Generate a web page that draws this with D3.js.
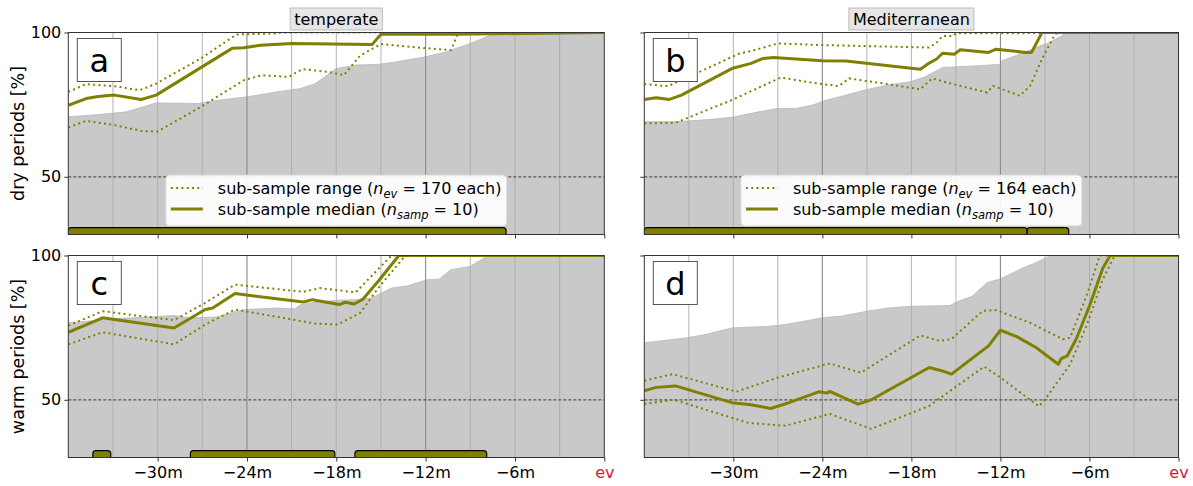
<!DOCTYPE html>
<html><head><meta charset="utf-8">
<script src="https://cdn.jsdelivr.net/npm/d3@7"></script>
<style>body{margin:0;background:#fff}svg{display:block;font-family:"DejaVu Sans",sans-serif}</style>
</head><body><svg id="c" width="1193" height="486"></svg>
<script>
// ---------- data (months before event, percent) ----------
const xTicks = [-30, -24, -18, -12, -6, 0];
const xTickLabels = ["\u221230m", "\u221224m", "\u221218m", "\u221212m", "\u22126m", "ev"];
const yTicks = [50, 100];
const gridMonths = [-33, -30, -27, -24, -21, -18, -15, -12, -9, -6, -3];
const majorGrid = [-24, -12];
const panelTitles = ["temperate", "Mediterranean"];
const rowLabels = ["dry periods [%]", "warm periods [%]"];
const legendN = [170, 164];
const nSamp = 10;

// panel a (temperate, dry)
const grayA_x = [-36, -34.3, -32.1, -30.1, -27.3, -25.8, -24, -22, -20.4, -19.4, -18, -16.7, -15.1, -14, -12, -10.6, -9, -7.9, -7.1, 0];
const grayA_y = [70.8, 71.4, 72.5, 75.6, 75.4, 76.6, 77.7, 79.4, 80.6, 82.3, 87.5, 88.7, 89, 89.8, 91.6, 93.3, 96.2, 98.5, 100, 100];
const medA_x = [-36, -34.8, -34.1, -33.5, -32.9, -31.1, -30.5, -30.1, -25, -24.2, -23.1, -21, -15.6, -15, -9.8, 0];
const medA_y = [74.8, 77.1, 77.7, 78.1, 78.3, 76.8, 77.7, 78.3, 94.5, 94.7, 95.6, 96.2, 95.8, 99.4, 99.4, 100];
const upA_x = [-36, -34.8, -32.9, -31.2, -30.1, -27.1, -24.7, -22, -21.7, 0];
const upA_y = [79.4, 82.1, 81.4, 80, 82.3, 91, 99.3, 99.7, 100, 100];
const loA_x = [-36, -34.8, -32.9, -31.1, -30, -27.1, -24.2, -23, -21.2, -20.3, -18.6, -17.5, -16.4, -15, -13, -10.3, -9.8, 0];
const loA_y = [67.1, 69.4, 67.9, 65.9, 65.7, 74.2, 83.5, 85.2, 84.6, 87.3, 86.4, 85.2, 92, 96, 95, 93.9, 100, 100];
const barsA = [[-36, -6.6]];

// panel b (Mediterranean, dry)
const grayB_x = [-36, -33.9, -32.9, -31.3, -30.1, -28.3, -27, -25.8, -24.7, -23.7, -22.4, -21.2, -19.6, -18.1, -17.1, -15.9, -13.4, -12, -11.9, -10.9, -9.6, -8.7, -7.8, -7.5, 0];
const grayB_y = [69.1, 69.1, 69.4, 70, 70.6, 72.5, 73.7, 73.7, 74.8, 76.6, 78.3, 80, 81.8, 82.9, 84.6, 87.9, 88.5, 89, 90.2, 92.1, 94.8, 96.5, 99.1, 100, 100];
const medB_x = [-36, -35.2, -34.3, -33.5, -30.1, -28.8, -28, -27.3, -24, -22.4, -17.4, -16.8, -16.3, -15.9, -15.1, -14.7, -12.8, -12.3, -10.3, -9.9, -9.2, 0];
const medB_y = [76.8, 77.4, 76.8, 78.3, 87.5, 89.3, 91, 91.3, 90.2, 90.1, 87.3, 89.4, 90.8, 92.8, 92.5, 94, 93.1, 94.2, 93.1, 93.1, 100, 100];
const upB_x = [-36, -34.4, -32.6, -29.6, -28.8, -27, -23.7, -16.8, -16.3, -15.9, -15.2, -15, -9.2, -9, 0];
const upB_y = [82.1, 81.4, 85.6, 92.7, 93.6, 96.2, 95.6, 94.8, 96.5, 98.8, 98.8, 99.7, 99.8, 100, 100];
const loB_x = [-36, -33.9, -30.1, -26.8, -24.7, -22.9, -22.2, -20.2, -17.4, -16.6, -15.4, -12.9, -12.5, -10.7, -10, -9.2, -8.5, -8.3, -8, 0];
const loB_y = [68.5, 68.7, 76.6, 84.4, 82.6, 81.4, 84.1, 82.6, 80.3, 84.1, 82.4, 79.2, 81.5, 78.1, 81.5, 90.8, 97.7, 99.4, 100, 100];
const barsB = [[-36, -10.2], [-10.2, -7.4]];

// panel c (temperate, warm)
const grayC_x = [-36, -34.8, -32.7, -30.5, -28.9, -27.9, -26, -24.7, -24, -22, -20.8, -20.4, -19.4, -18, -16.7, -15.6, -14.3, -13.2, -11.9, -11.1, -10.3, -9, -7.9, -7.6, 0];
const grayC_y = [76.7, 77.2, 78.2, 78.7, 79.2, 78.4, 78.7, 80.7, 81.3, 81.8, 81.5, 82.9, 83.8, 84.5, 84.7, 85.3, 88.7, 89.5, 91.6, 91.8, 95.1, 96.2, 99.7, 100, 100];
const medC_x = [-36, -33.7, -28.9, -26.8, -26.3, -24.8, -20.2, -19.6, -17.8, -17.4, -16.8, -16.2, -15.1, -13.8, 0];
const medC_y = [73.4, 78.4, 74.9, 81.3, 81.8, 86.8, 83.9, 84.7, 83, 83.8, 83.2, 84.9, 91.6, 100, 100];
const upC_x = [-36, -33.7, -28.9, -26.8, -24.8, -20.2, -19.1, -16.7, -14.3, 0];
const upC_y = [75.7, 80.7, 77.6, 83.6, 89.9, 87.4, 88.7, 87.2, 100, 100];
const loC_x = [-36, -33.7, -28.9, -26.8, -24.8, -19.4, -17.9, -16.4, -15.1, -13.5, -13.2, 0];
const loC_y = [69.2, 73.4, 69.2, 76.1, 81.3, 76.4, 76.1, 80.1, 89.3, 99.1, 100, 100];
const barsC = [[-34.35, -33.15], [-27.8, -18.1], [-16.75, -7.9]];

// panel d (Mediterranean, warm)
const grayD_x = [-36, -34.9, -33.1, -31.9, -30.1, -28.3, -27, -25.8, -24, -22.7, -21, -19.6, -18.1, -16.8, -15.4, -14.8, -13.9, -12.9, -12, -11.4, -10.5, -9.6, -8.7, -8.5, 0];
const grayD_y = [69.8, 70.4, 71.5, 72.6, 74.9, 75.3, 75.7, 76.7, 78.4, 79, 80.7, 81.8, 82.4, 82.5, 82.7, 84.2, 85.9, 90.6, 91.9, 93.4, 95.7, 97.5, 99.8, 100, 100];
const medD_x = [-36, -35.2, -33.9, -30.1, -28.8, -27.5, -26.3, -24.2, -23.7, -23.5, -21.6, -20.7, -16.8, -15.9, -15.3, -12.8, -12, -10.9, -9.6, -8.1, -7.9, -7.5, -6.9, -6, -5.1, -4.6, 0];
const medD_y = [53.1, 54.3, 54.8, 49, 48.3, 47, 48.9, 52.8, 52.3, 52.9, 48.5, 50, 61.2, 60, 58.9, 68.7, 74.1, 71.9, 68.1, 62.3, 64.3, 65.2, 71, 82.5, 95.7, 100, 100];
const upD_x = [-36, -34.1, -29.8, -27, -23.5, -21.4, -17.4, -16.1, -15.3, -13.2, -12.3, -10, -7.8, -7.3, -6.2, -5.3, 0];
const upD_y = [56.6, 58.9, 52.8, 57.7, 62.6, 59.4, 72.3, 70.4, 71, 80.8, 81.1, 76.7, 71, 71.5, 86, 100, 100];
const loD_x = [-36, -34, -29, -26.5, -23.5, -20.7, -16.8, -13.1, -12, -9.4, -8.9, -7.3, -6.2, -5.1, -4.3, 0];
const loD_y = [48.5, 50, 42, 41, 45.1, 39.9, 47.9, 61.5, 57.7, 47.7, 50.8, 62.3, 75.6, 91.7, 100, 100];
const barsD = [];

// ---------- drawing ----------
const OLIVE = "#808000";
const svg = d3.select("#c");
const defs = svg.append("defs");
const zip = (xs, ys) => xs.map((v, i) => [v, ys[i]]);

const panels = [
  {id: "a", col: 0, row: 0, x0: 68.3, x1: 604.3, y0: 32.5, y1: 234.5, gray: zip(grayA_x, grayA_y), med: zip(medA_x, medA_y), up: zip(upA_x, upA_y), lo: zip(loA_x, loA_y), bars: barsA},
  {id: "b", col: 1, row: 0, x0: 644.3, x1: 1178.5, y0: 32.5, y1: 234.5, gray: zip(grayB_x, grayB_y), med: zip(medB_x, medB_y), up: zip(upB_x, upB_y), lo: zip(loB_x, loB_y), bars: barsB},
  {id: "c", col: 0, row: 1, x0: 68.3, x1: 604.3, y0: 255.5, y1: 457.5, gray: zip(grayC_x, grayC_y), med: zip(medC_x, medC_y), up: zip(upC_x, upC_y), lo: zip(loC_x, loC_y), bars: barsC},
  {id: "d", col: 1, row: 1, x0: 644.3, x1: 1178.5, y0: 255.5, y1: 457.5, gray: zip(grayD_x, grayD_y), med: zip(medD_x, medD_y), up: zip(upD_x, upD_y), lo: zip(loD_x, loD_y), bars: barsD}
];

panels.forEach(p => {
  const x = d3.scaleLinear().domain([-36, 0]).range([p.x0, p.x1]);
  const y = d3.scaleLinear().domain([30, 100]).range([p.y1, p.y0]);
  defs.append("clipPath").attr("id", "clip" + p.id).append("rect")
    .attr("x", p.x0).attr("y", p.y0).attr("width", p.x1 - p.x0).attr("height", p.y1 - p.y0);
  const g = svg.append("g");
  const inner = g.append("g").attr("clip-path", `url(#clip${p.id})`);

  // gray area
  inner.append("path").datum(p.gray)
    .attr("d", d3.area().x(d => x(d[0])).y0(y(30)).y1(d => y(d[1])))
    .attr("fill", "#c9c9c9");
  inner.append("path").datum(p.gray)
    .attr("d", d3.line().x(d => x(d[0])).y(d => y(d[1])))
    .attr("fill", "none").attr("stroke", "#b9b9b9").attr("stroke-width", 0.8);

  // grid
  inner.selectAll("line.grid").data(gridMonths).join("line")
    .attr("x1", d => x(d)).attr("x2", d => x(d)).attr("y1", p.y0).attr("y2", p.y1)
    .attr("stroke", d => majorGrid.includes(d) ? "#8a8a8a" : "#ababab")
    .attr("stroke-width", d => majorGrid.includes(d) ? 1.1 : 0.9);

  // 50% line
  inner.append("line").attr("x1", p.x0).attr("x2", p.x1).attr("y1", y(50)).attr("y2", y(50))
    .attr("stroke", "#555").attr("stroke-width", 1.2).attr("stroke-dasharray", "3,2");

  const line = d3.line().x(d => x(d[0])).y(d => y(d[1]));
  [p.up, p.lo].forEach(s => inner.append("path").datum(s).attr("d", line)
    .attr("fill", "none").attr("stroke", OLIVE).attr("stroke-width", 2).attr("stroke-dasharray", "2,3.3"));
  inner.append("path").datum(p.med).attr("d", line)
    .attr("fill", "none").attr("stroke", OLIVE).attr("stroke-width", 3).attr("stroke-linejoin", "round");

  // bars
  inner.selectAll("rect.bar").data(p.bars).join("rect")
    .attr("x", d => x(d[0])).attr("width", d => x(d[1]) - x(d[0]))
    .attr("y", y(32.4)).attr("height", y(28) - y(32.4))
    .attr("rx", 3).attr("ry", 3)
    .attr("fill", OLIVE).attr("stroke", "#000").attr("stroke-width", 1.2);

  // spines
  g.append("rect").attr("x", p.x0).attr("y", p.y0).attr("width", p.x1 - p.x0).attr("height", p.y1 - p.y0)
    .attr("fill", "none").attr("stroke", "#333").attr("stroke-width", 1);

  // x axis
  const xa = g.append("g").attr("transform", `translate(0,${p.y1})`)
    .call(d3.axisBottom(x).tickValues(xTicks).tickSize(4).tickPadding(5)
      .tickFormat((d, i) => p.row === 1 ? xTickLabels[i] : ""));
  xa.select(".domain").remove();
  xa.selectAll(".tick line").attr("stroke", "#333");
  xa.selectAll(".tick text").attr("font-size", 16).attr("font-family", "DejaVu Sans")
    .attr("fill", d => d === 0 ? "#dc143c" : "#000");

  // y axis
  const ya = g.append("g").attr("transform", `translate(${p.x0},0)`)
    .call(d3.axisLeft(y).tickValues(yTicks).tickSize(4).tickPadding(3)
      .tickFormat(d => p.col === 0 ? d : ""));
  ya.select(".domain").remove();
  ya.selectAll(".tick line").attr("stroke", "#333");
  ya.selectAll(".tick text").attr("font-size", 16).attr("font-family", "DejaVu Sans").attr("fill", "#000");

  // letter box
  g.append("rect").attr("x", p.x0 + 9).attr("y", p.y0 + 6).attr("width", 44).attr("height", 43)
    .attr("fill", "#fff").attr("stroke", "#555").attr("stroke-width", 1);
  g.append("text").attr("x", p.x0 + 31).attr("y", p.y0 + 39).attr("text-anchor", "middle")
    .attr("font-size", 32).text(p.id);

  // legend (top row)
  if (p.row === 0) {
    const lw = 341, lh = 51;
    const cx = (p.x0 + p.x1) / 2;
    const lx = cx - lw / 2, ly = 175;
    g.append("rect").attr("x", lx).attr("y", ly).attr("width", lw).attr("height", lh)
      .attr("rx", 4).attr("fill", "#fff").attr("fill-opacity", 0.92).attr("stroke", "#d6d6d6");
    g.append("line").attr("x1", lx + 5).attr("x2", lx + 37).attr("y1", ly + 13).attr("y2", ly + 13)
      .attr("stroke", OLIVE).attr("stroke-width", 2).attr("stroke-dasharray", "2,3.3");
    g.append("line").attr("x1", lx + 5).attr("x2", lx + 37).attr("y1", ly + 34).attr("y2", ly + 34)
      .attr("stroke", OLIVE).attr("stroke-width", 3);
    const t1 = g.append("text").attr("x", lx + 52).attr("y", ly + 19).attr("font-size", 16);
    t1.append("tspan").text("sub-sample range (");
    t1.append("tspan").attr("font-style", "italic").text("n");
    t1.append("tspan").attr("font-style", "italic").attr("font-size", 11.5).attr("dy", 4).text("ev");
    t1.append("tspan").attr("dy", -4).text(" = " + legendN[p.col] + " each)");
    const t2 = g.append("text").attr("x", lx + 52).attr("y", ly + 40).attr("font-size", 16);
    t2.append("tspan").text("sub-sample median (");
    t2.append("tspan").attr("font-style", "italic").text("n");
    t2.append("tspan").attr("font-style", "italic").attr("font-size", 11.5).attr("dy", 4).text("samp");
    t2.append("tspan").attr("dy", -4).text(" = " + nSamp + ")");

    // column title
    const tt = g.append("text").attr("x", cx).attr("y", 25).attr("text-anchor", "middle")
      .attr("font-size", 16).text(panelTitles[p.col]);
    const bb = tt.node().getBBox();
    g.insert("rect", () => tt.node())
      .attr("x", bb.x - 4).attr("y", 8).attr("width", bb.width + 8).attr("height", 22)
      .attr("fill", "#e6e6e6").attr("stroke", "#bdbdbd").attr("stroke-width", 1);
  }

  // row label
  if (p.col === 0) {
    const cy = (p.y0 + p.y1) / 2;
    g.append("text").attr("transform", `translate(24,${cy}) rotate(-90)`)
      .attr("text-anchor", "middle").attr("font-size", 17.5).text(rowLabels[p.row]);
  }
});
</script></body></html>
